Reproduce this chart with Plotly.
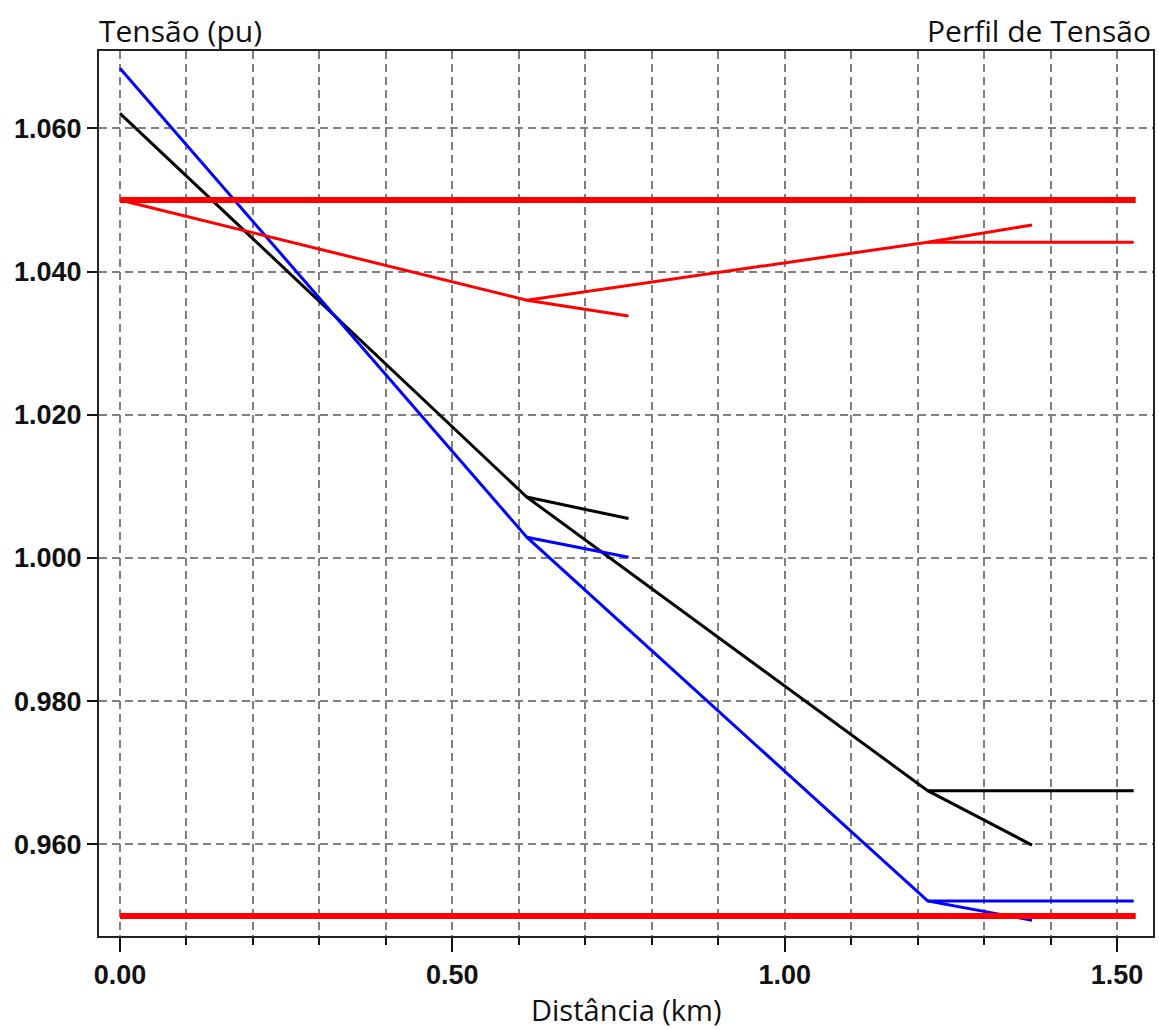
import plotly.graph_objects as go

# ---- data ----
trunk_km = [0.0, 0.612, 1.215, 1.372]
branch1_km = [0.612, 0.765]
branch2_km = [1.215, 1.525]

blue_trunk = [1.0684, 1.0029, 0.9521, 0.9494]
blue_branch1 = [1.0029, 1.0001]
blue_branch2 = [0.9521, 0.9521]

black_trunk = [1.0621, 1.0085, 0.9675, 0.9599]
black_branch1 = [1.0085, 1.0055]
black_branch2 = [0.9675, 0.9675]

red_trunk = [1.0500, 1.0360, 1.0441, 1.0465]
red_branch1 = [1.0360, 1.0338]
red_branch2 = [1.0441, 1.0441]

limit_km = [0.0, 1.528]
upper_limit = [1.050, 1.050]
lower_limit = [0.950, 0.950]

x_ticks = [0.0, 0.5, 1.0, 1.5]
x_ticktext = ["0.00", "0.50", "1.00", "1.50"]
y_ticks = [0.96, 0.98, 1.00, 1.02, 1.04, 1.06]
y_ticktext = ["0.960", "0.980", "1.000", "1.020", "1.040", "1.060"]


def joined(xs_list, ys_list):
    X, Y = [], []
    for xs, ys in zip(xs_list, ys_list):
        X += list(xs) + [None]
        Y += list(ys) + [None]
    return X, Y


fig = go.Figure()
series = [
    ("black", "#000000", [black_trunk, black_branch1, black_branch2]),
    ("blue", "#0000ff", [blue_trunk, blue_branch1, blue_branch2]),
    ("red", "#ff0000", [red_trunk, red_branch1, red_branch2]),
]
for name, color, ys in series:
    X, Y = joined([trunk_km, branch1_km, branch2_km], ys)
    fig.add_trace(go.Scatter(x=X, y=Y, mode="lines", name=name,
                             line=dict(color=color, width=3),
                             connectgaps=False, showlegend=False))

for lim in (upper_limit, lower_limit):
    fig.add_trace(go.Scatter(x=limit_km, y=lim, mode="lines",
                             line=dict(color="#ff0000", width=6),
                             showlegend=False))

grid_style = dict(gridcolor="#808080", gridwidth=1.5, griddash="8px,5px")

fig.update_layout(
    width=1159, height=1029,
    margin=dict(l=99, r=4, t=51, b=93),
    paper_bgcolor="white", plot_bgcolor="white",
    font=dict(family="Liberation Sans, Arial, sans-serif", color="#111111"),
    xaxis=dict(
        range=[-0.0315, 1.554],
        tickvals=x_ticks, ticktext=x_ticktext,
        ticks="outside", ticklen=14, tickwidth=2, tickcolor="#111111",
        tickfont=dict(size=27, family="Liberation Sans, Arial, sans-serif", weight="bold"),
        showline=True, mirror=True, linecolor="#222222", linewidth=2,
        showgrid=True, **grid_style,
        zeroline=False,
        minor=dict(dtick=0.1, tick0=0, ticks="outside", ticklen=7, tickwidth=2,
                   tickcolor="#111111", showgrid=True, **grid_style),
    ),
    yaxis=dict(
        range=[0.9472, 1.0708],
        tickvals=y_ticks, ticktext=y_ticktext,
        ticks="outside", ticklen=10, tickwidth=2, tickcolor="#111111",
        tickfont=dict(size=27, family="Liberation Sans, Arial, sans-serif", weight="bold"),
        showline=True, mirror=True, linecolor="#222222", linewidth=2,
        showgrid=True, **grid_style,
        zeroline=False,
    ),
    annotations=[
        dict(text="Tensão (pu)", xref="paper", yref="paper", x=-0.002, y=1.0226,
             xanchor="left", yanchor="middle", showarrow=False,
             font=dict(family="Open Sans, Noto Sans, sans-serif", size=30, color="#111111")),
        dict(text="Perfil de Tensão", xref="paper", yref="paper", x=1.0, y=1.0226,
             xanchor="right", yanchor="middle", showarrow=False,
             font=dict(family="Open Sans, Noto Sans, sans-serif", size=30, color="#111111")),
        dict(text="Distância (km)", xref="paper", yref="paper", x=0.5, y=-0.083,
             xanchor="center", yanchor="middle", showarrow=False,
             font=dict(family="Open Sans, Noto Sans, sans-serif", size=29, color="#111111")),
    ],
)

fig.write_html("out.html")
